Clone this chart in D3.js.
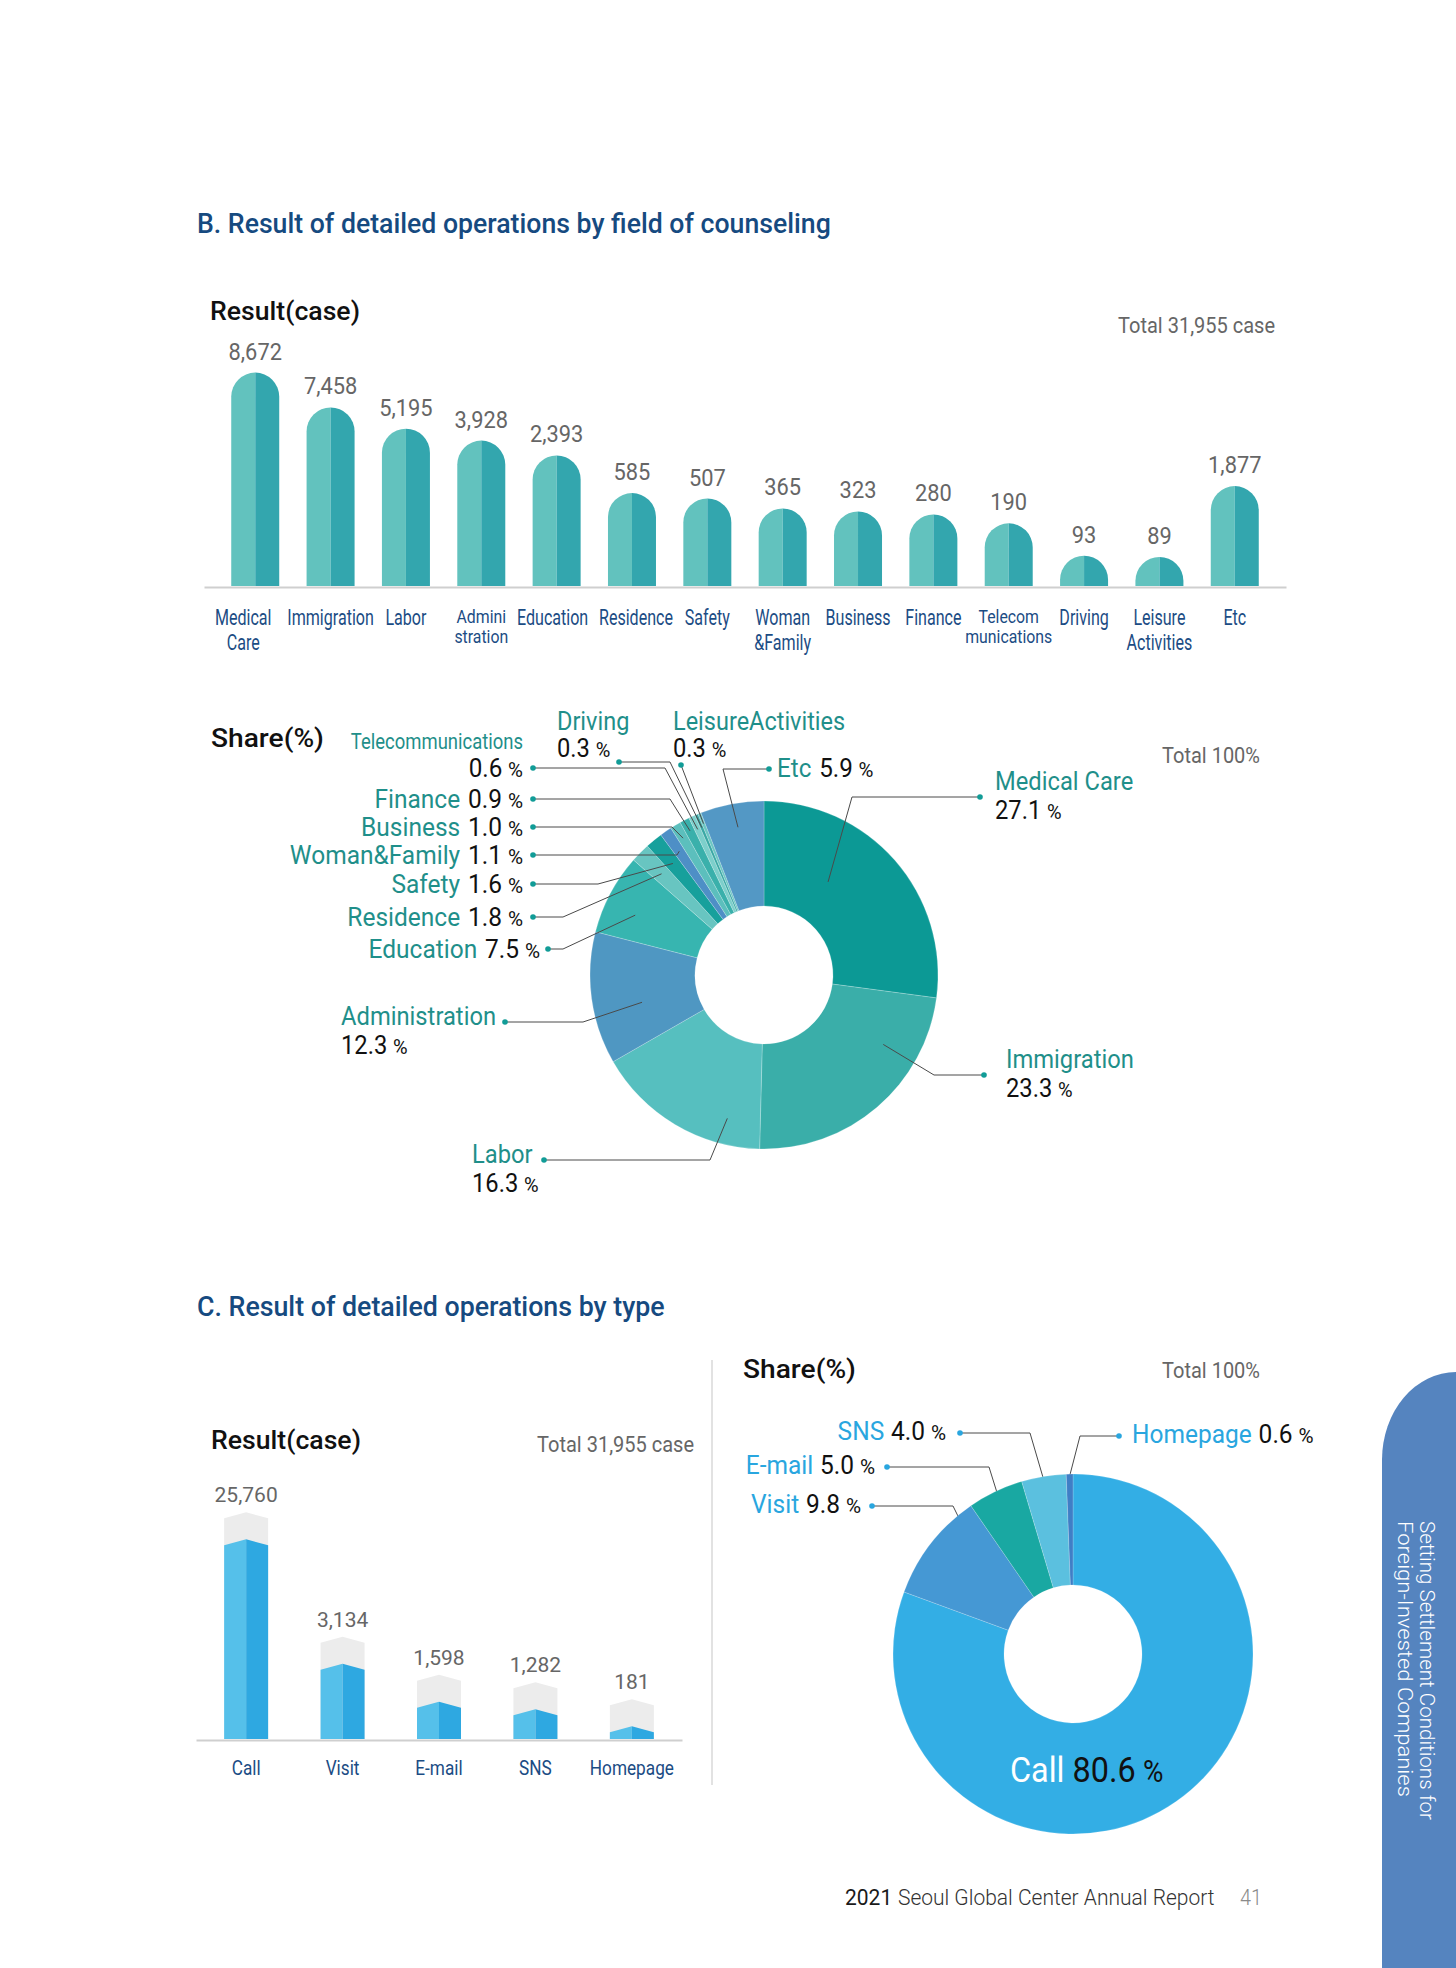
<!DOCTYPE html>
<html><head><meta charset="utf-8">
<script src="https://cdn.jsdelivr.net/npm/d3@7"></script>
<style>
html,body{margin:0;padding:0;background:#fff;}
svg{display:block;}
</style></head><body>
<svg id="c" width="1456" height="1968"></svg>
<script>
// ---------- DATA ----------
const fieldCategories = ["Medical Care","Immigration","Labor","Administration","Education","Residence","Safety","Woman&Family","Business","Finance","Telecommunications","Driving","Leisure Activities","Etc"];
const fieldAxisLabels = [["Medical","Care"],["Immigration"],["Labor"],["Admini","stration"],["Education"],["Residence"],["Safety"],["Woman","&Family"],["Business"],["Finance"],["Telecom","munications"],["Driving"],["Leisure","Activities"],["Etc"]];
const fieldCases = [8672,7458,5195,3928,2393,585,507,365,323,280,190,93,89,1877];
const fieldShareNames = ["Medical Care","Immigration","Labor","Administration","Education","Residence","Safety","Woman&Family","Business","Finance","Telecommunications","Driving","LeisureActivities","Etc"];
const fieldShares = [27.1,23.3,16.3,12.3,7.5,1.8,1.6,1.1,1.0,0.9,0.6,0.3,0.3,5.9];
const typeCategories = ["Call","Visit","E-mail","SNS","Homepage"];
const typeCases = [25760,3134,1598,1282,181];
const typeShares = [80.6,9.8,5.0,4.0,0.6];
const totalCases = 31955;
const totalShare = 100;

// ---------- STYLE ----------
const FONT = "Roboto, 'Noto Sans', Arial, sans-serif";
const NAVY = "#164a80", NAVY2 = "#1b4c84", TEAL_T = "#1f8f8a", TEAL_DOT = "#119c97";
const BLUE_T = "#29a6df", GREY_T = "#666666", BLACK = "#111111";
const pieBColors = ["#0c9995","#3aaea9","#56bfbf","#4f97c2","#37b5b0","#68c5c1","#17a09c","#4e8fc6","#5cbfbd","#3ab0ab","#7dcfcb","#3aa8a5","#6cc6c3","#5398c5"];
const pieCColors = ["#33aee5","#4598d4","#19a8a2","#5bc0df","#3f7fc6"];

const svg = d3.select("#c");
const fmt = d3.format(",");

function txt(parent, x, y, parts, o = {}) {
  const g = parent.append("g");
  const t = g.append("text").attr("text-anchor", o.anchor || "start").attr("font-family", FONT);
  parts.forEach(p => {
    const s = t.append("tspan").text(p.t).attr("font-size", p.s).attr("fill", p.f || BLACK)
      .attr("font-weight", p.w || 400);
    if (p.dx) s.attr("dx", p.dx);
  });
  let sx = o.sx || 1;
  if (o.w) sx = o.w / t.node().getComputedTextLength();
  g.attr("transform", `translate(${x},${y}) scale(${sx},1)`);
  return g;
}

// ---------- SECTION B : bars ----------
txt(svg, 197, 233, [{t:"B. Result of detailed operations by field of counseling", s:28, f:NAVY, w:500}], {w:634});
txt(svg, 210, 320, [{t:"Result(case)", s:26, f:BLACK, w:500}], {w:150});
txt(svg, 1275, 333, [{t:`Total ${fmt(totalCases)} case`, s:22, f:GREY_T}], {anchor:"end", w:157});

const baseB = 586, bwB = 48;
const xB = d3.scalePoint().domain(fieldCategories).range([204, 1286]).padding(0.68);
const yB = d3.scaleLinear().domain([0,80,200,600,1900,2400,7500,9000]).range([0,26,66,94,100,131,179,223]);

const axB = svg.append("g").attr("transform", `translate(0,${baseB + 1})`)
  .call(d3.axisBottom(xB).tickSize(0).tickSizeOuter(0).tickFormat(""));
axB.select(".domain").attr("stroke", "#cfcfcf").attr("stroke-width", 2);

const barDataB = fieldCases.map((v, i) => ({v, c: fieldCategories[i], lab: fieldAxisLabels[i], i}));
const gB = svg.append("g").selectAll("g").data(barDataB).join("g");
gB.append("path").attr("fill", "#62c2be").attr("d", d => {
  const cx = xB(d.c), top = baseB - yB(d.v), r = bwB / 2;
  return `M${cx},${baseB}H${cx - r}V${top + r}A${r},${r} 0 0 1 ${cx},${top}Z`;
});
gB.append("path").attr("fill", "#33a6ae").attr("d", d => {
  const cx = xB(d.c), top = baseB - yB(d.v), r = bwB / 2;
  return `M${cx},${baseB}V${top}A${r},${r} 0 0 1 ${cx + r},${top + r}V${baseB}Z`;
});
const tightLabels = new Set([3, 10]);
const labelShift = {0: -12, 4: -4, 5: 4};
barDataB.forEach(d => {
  txt(svg, xB(d.c), baseB - yB(d.v) - 13, [{t: fmt(d.v), s:23, f:GREY_T}], {anchor:"middle", sx:0.95});
  const tight = tightLabels.has(d.i);
  const lead = tight ? 20 : 25;
  const lx = xB(d.c) + (labelShift[d.i] || 0);
  d.lab.forEach((line, k) => {
    txt(svg, lx, (tight ? 623 : 625) + k * lead, [{t: line, s: tight ? 18 : 22, f:NAVY2}], {anchor:"middle", sx: tight ? 0.88 : 0.73});
  });
});

// ---------- SECTION B : donut ----------
txt(svg, 211, 747, [{t:"Share(%)", s:26, f:BLACK, w:500}], {w:113});
txt(svg, 1260, 763, [{t:`Total ${totalShare}%`, s:22, f:GREY_T}], {anchor:"end", w:98});

const cB = [764, 975];
const pieB = d3.pie().sort(null).value(d => d.v)(fieldShares.map((v, i) => ({v, n: fieldShareNames[i], i})));
const arcB = d3.arc().innerRadius(69).outerRadius(174);
const gPB = svg.append("g").attr("transform", `translate(${cB[0]},${cB[1]})`);
gPB.selectAll("path").data(pieB).join("path")
  .attr("d", arcB).attr("fill", (d, i) => pieBColors[i])
  .attr("stroke", "rgba(255,255,255,0.35)").attr("stroke-width", 0.6);

// label layout (positions only)
const pieBLayout = [
  {kind:"r2", x:995, b:790, dot:[980,797], ex:852, t:.354, r:113},
  {kind:"r2", x:1006, b:1068, dot:[984,1075], ex:934, t:.27, r:138},
  {kind:"l2", x:472, b:1163, dot:[544,1160], ex:710, t:.22, r:148},
  {kind:"l2", x:341, b:1025, dot:[505,1022], ex:583, t:.39, r:125},
  {kind:"row", x:540, b:958, dot:[548,949], ex:563, t:.39, r:142},
  {kind:"row", x:523, b:926, dot:[533,917], ex:563, t:.5, r:144},
  {kind:"row", x:523, b:893, dot:[533,884], ex:598, t:.5, r:144},
  {kind:"row", x:523, b:864, dot:[533,855], ex:677, t:.5, r:150},
  {kind:"row", x:523, b:836, dot:[533,827], ex:672, t:.5, r:159},
  {kind:"row", x:523, b:808, dot:[533,799], ex:670, t:.5, r:162},
  {kind:"tel", x:523, b:777, nb:749, dot:[533,768], ex:665, t:.5, r:160},
  {kind:"top", x:557, b:757, nb:730, dot:[619,762], ex:670, t:.5, r:160},
  {kind:"top", x:673, b:757, nb:730, dot:[681,765], ex:681, t:.5, r:163},
  {kind:"etc", x:777, b:777, dot:[769,769], ex:723, t:.53, r:150}
];

function anchorPt(arc, t, r, c) {
  const a = arc.startAngle + (arc.endAngle - arc.startAngle) * t;
  return [c[0] + r * Math.sin(a), c[1] - r * Math.cos(a)];
}
const lineG = svg.append("g");
const PCT = 21;
pieB.forEach((arc, i) => {
  const L = pieBLayout[i];
  const name = arc.data.n, val = arc.data.v.toFixed(1);
  const an = anchorPt(arc, L.t, L.r, cB);
  lineG.append("path").attr("fill", "none").attr("stroke", "#4a4a4a").attr("stroke-width", 1)
    .attr("d", d3.line()([an, [L.ex, L.dot[1]], L.dot]));
  lineG.append("circle").attr("cx", L.dot[0]).attr("cy", L.dot[1]).attr("r", 2.8).attr("fill", TEAL_DOT);
  const valParts = [{t: val, s:25, f:BLACK}, {t:"%", s:PCT, f:BLACK, dx:6}];
  const rowParts = [{t:name, s:25, f:TEAL_T}, {t:val, s:25, f:BLACK, dx:8}, {t:"%", s:PCT, f:BLACK, dx:6}];
  if (L.kind === "r2" || L.kind === "l2") {
    txt(svg, L.x, L.b, [{t:name, s:25, f:TEAL_T}], {sx:0.95});
    txt(svg, L.x, L.b + 29, valParts, {sx:0.95});
  } else if (L.kind === "row") {
    txt(svg, L.x, L.b, rowParts, {anchor:"end", sx:0.98});
  } else if (L.kind === "tel") {
    txt(svg, L.x, L.nb, [{t:name, s:22, f:TEAL_T}], {anchor:"end", sx:0.84});
    txt(svg, L.x, L.b, valParts, {anchor:"end", sx:0.97});
  } else if (L.kind === "top") {
    txt(svg, L.x, L.nb, [{t:name, s:25, f:TEAL_T}], {sx:0.94});
    txt(svg, L.x, L.b, valParts, {sx:0.95});
  } else {
    txt(svg, L.x, L.b, rowParts, {sx:0.97});
  }
});

// ---------- SECTION C : bars ----------
txt(svg, 197, 1316, [{t:"C. Result of detailed operations by type", s:28, f:NAVY, w:500}], {w:468});
txt(svg, 211, 1449, [{t:"Result(case)", s:26, f:BLACK, w:500}], {w:150});
txt(svg, 694, 1452, [{t:`Total ${fmt(totalCases)} case`, s:22, f:GREY_T}], {anchor:"end", w:157});

svg.append("line").attr("x1", 712).attr("x2", 712).attr("y1", 1360).attr("y2", 1785)
  .attr("stroke", "#d8d8d8").attr("stroke-width", 1.5);

const baseC = 1739, bwC = 44, peak = 6, capH = 27;
const xC = d3.scalePoint().domain(typeCategories).range([196, 682]).padding(0.52);
const yC = d3.scaleLinear().domain([0,200,1300,3200,26000]).range([0,14,30,77,201]);

const axC = svg.append("g").attr("transform", `translate(0,${baseC + 1})`)
  .call(d3.axisBottom(xC).tickSize(0).tickSizeOuter(0).tickFormat(""));
axC.select(".domain").attr("stroke", "#cfcfcf").attr("stroke-width", 2);

const barDataC = typeCases.map((v, i) => ({v, c: typeCategories[i]}));
const gC = svg.append("g").selectAll("g").data(barDataC).join("g");
gC.append("path").attr("fill", "#ececec").attr("d", d => {
  const cx = xC(d.c), r = bwC / 2, top = baseC - yC(d.v) - capH;
  return `M${cx - r},${baseC}V${top + peak}L${cx},${top}L${cx + r},${top + peak}V${baseC}Z`;
});
gC.append("path").attr("fill", "#55c0ea").attr("d", d => {
  const cx = xC(d.c), r = bwC / 2, top = baseC - yC(d.v);
  return `M${cx - r},${baseC}V${top + peak}L${cx},${top}V${baseC}Z`;
});
gC.append("path").attr("fill", "#2ea8e1").attr("d", d => {
  const cx = xC(d.c), r = bwC / 2, top = baseC - yC(d.v);
  return `M${cx},${baseC}V${top}L${cx + r},${top + peak}V${baseC}Z`;
});
barDataC.forEach(d => {
  txt(svg, xC(d.c), baseC - yC(d.v) - capH - 10, [{t: fmt(d.v), s:21, f:GREY_T}], {anchor:"middle", sx:1.0});
  txt(svg, xC(d.c), 1775, [{t: d.c, s:21, f:NAVY2}], {anchor:"middle", sx:0.82});
});

// ---------- SECTION C : donut ----------
txt(svg, 743, 1378, [{t:"Share(%)", s:26, f:BLACK, w:500}], {w:113});
txt(svg, 1260, 1378, [{t:`Total ${totalShare}%`, s:22, f:GREY_T}], {anchor:"end", w:98});

const cC = [1073, 1654];
const pieC = d3.pie().sort(null).value(d => d.v)(typeShares.map((v, i) => ({v, n: typeCategories[i]})));
const arcC = d3.arc().innerRadius(69).outerRadius(180);
svg.append("g").attr("transform", `translate(${cC[0]},${cC[1]})`)
  .selectAll("path").data(pieC).join("path")
  .attr("d", arcC).attr("fill", (d, i) => pieCColors[i])
  .attr("stroke", "rgba(255,255,255,0.3)").attr("stroke-width", 0.6);

const pieCLayout = [
  {kind:"in", x:1010, b:1782},
  {kind:"left", x:861, b:1513, dot:[872,1506], ex:953, t:.76, r:146},
  {kind:"left", x:875, b:1474, dot:[887,1467], ex:989, t:.5, r:171},
  {kind:"left", x:946, b:1440, dot:[960,1433], ex:1030, t:.5, r:172},
  {kind:"right", x:1132, b:1443, dot:[1119,1436], ex:1080, t:.5, r:178}
];
pieC.forEach((arc, i) => {
  const L = pieCLayout[i];
  const name = arc.data.n, val = arc.data.v.toFixed(1);
  if (L.kind === "in") {
    txt(svg, L.x, L.b, [{t:name, s:36, f:"#ffffff"}, {t:val, s:36, f:BLACK, dx:9}, {t:"%", s:31, f:BLACK, dx:8}], {sx:0.9});
    return;
  }
  const an = anchorPt(arc, L.t, L.r, cC);
  lineG.append("path").attr("fill", "none").attr("stroke", "#4a4a4a").attr("stroke-width", 1)
    .attr("d", d3.line()([an, [L.ex, L.dot[1]], L.dot]));
  lineG.append("circle").attr("cx", L.dot[0]).attr("cy", L.dot[1]).attr("r", 2.8).attr("fill", BLUE_T);
  const parts = [{t:name, s:25, f:BLUE_T}, {t:val, s:25, f:BLACK, dx:7}, {t:"%", s:PCT, f:BLACK, dx:6}];
  txt(svg, L.x, L.b, parts, {anchor: L.kind === "left" ? "end" : "start", sx:0.98});
});

// ---------- page furniture ----------
svg.append("path").attr("fill", "#5584bf")
  .attr("d", "M1382,1968V1460A74,88 0 0 1 1456,1372V1968Z");
const side = svg.append("g").attr("transform", "translate(1420,1521) rotate(90)");
txt(side, 0, 0, [{t:"Setting Settlement Conditions for", s:20, f:"#ffffff", w:300}], {w:299});
txt(side, 0, 22, [{t:"Foreign-Invested Companies", s:20, f:"#ffffff", w:300}], {w:276});

txt(svg, 845, 1905, [{t:"2021", s:22, f:"#1a1a1a", w:400}, {t:"Seoul Global Center Annual Report", s:22, f:"#333333", w:300, dx:6}], {w:364});
txt(svg, 1240, 1905, [{t:"41", s:22, f:"#8a8a8a", w:300}], {sx:0.9});
</script>
</body></html>
